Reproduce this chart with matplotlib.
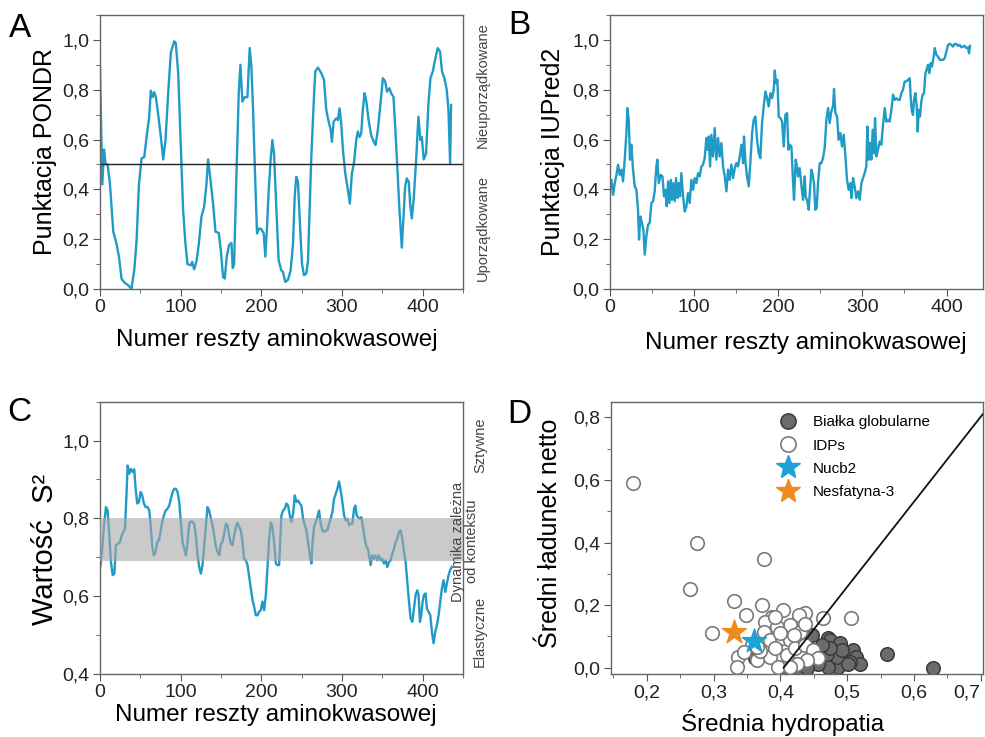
import matplotlib
matplotlib.use("Agg")
import matplotlib.pyplot as plt
from matplotlib.ticker import MultipleLocator, FuncFormatter
from matplotlib.lines import Line2D

plt.rcParams['font.family'] = ['Liberation Sans', 'DejaVu Sans']

# ---- panel A: PONDR score ----
pondr_x = [0, 2.9, 5, 7, 9.5, 12.4, 16.5, 20.6, 23.5, 26.8, 31, 35, 39, 42.5, 45.4, 48.3,
           51.6, 54.9, 57.8, 61, 63, 65.2, 67.2, 69.3, 72, 75.5, 78.4, 81.3, 84.6, 87.9,
           92, 94, 97, 100.2, 103, 106, 108.5, 112.6, 114.3, 116.7, 119.6, 122.5, 125.8,
           129.1, 132, 134, 136.1, 140.3, 143.2, 147.3, 149.8, 152.6, 154.7, 157.2, 160,
           163, 164.6, 166.3, 169.1, 172, 174.1, 176.6, 179.5, 182.8, 185.6, 187.7, 189.8,
           191.8, 194.7, 197.2, 200.1, 203, 205, 207.1, 209.2, 211.6, 213.7, 215.8, 218.7,
           221.5, 224.8, 226.9, 229.8, 233.1, 236.4, 239.3, 241.4, 243.4, 245.5, 247.5,
           250.4, 252.9, 255.8, 257.9, 259.9, 262, 265.3, 266.9, 270.2, 274.4, 277.7,
           280.5, 282.6, 285.9, 287.6, 289.6, 292.9, 295, 297, 299.1, 301.2, 304.1, 307.4,
           309.8, 312.3, 314.8, 317.7, 319.7, 321.8, 323.9, 325.9, 328, 330, 333, 336.2,
           339.5, 341.6, 344.5, 347.8, 350.7, 353.6, 356, 358.9, 361, 363.9, 366, 368.4,
           371.3, 374.2, 376.3, 378.3, 380.4, 382.9, 384.5, 386.6, 389, 392, 394.8, 397.3,
           399, 401.4, 404.3, 407.2, 409.7, 412.6, 415.4, 418.7, 421.6, 424.1, 427, 429.9,
           432, 434.1, 435.3]
pondr_y = [0.89, 0.42, 0.56, 0.50, 0.50, 0.42, 0.23, 0.18, 0.13, 0.04, 0.024, 0.015, 0.0,
           0.075, 0.196, 0.42, 0.524, 0.53, 0.61, 0.69, 0.796, 0.77, 0.79, 0.77, 0.705,
           0.61, 0.52, 0.60, 0.79, 0.95, 0.994, 0.987, 0.866, 0.58, 0.32, 0.18, 0.10,
           0.095, 0.109, 0.079, 0.11, 0.18, 0.29, 0.33, 0.42, 0.52, 0.464, 0.34, 0.23,
           0.225, 0.156, 0.048, 0.042, 0.13, 0.176, 0.185, 0.084, 0.10, 0.45, 0.785, 0.90,
           0.752, 0.77, 0.77, 0.967, 0.893, 0.72, 0.504, 0.223, 0.243, 0.24, 0.223, 0.13,
           0.25, 0.397, 0.52, 0.598, 0.544, 0.32, 0.115, 0.075, 0.068, 0.028, 0.037,
           0.075, 0.18, 0.37, 0.45, 0.43, 0.29, 0.102, 0.055, 0.062, 0.115, 0.316, 0.53,
           0.772, 0.873, 0.889, 0.866, 0.84, 0.72, 0.685, 0.64, 0.591, 0.672, 0.685,
           0.678, 0.725, 0.665, 0.558, 0.464, 0.397, 0.343, 0.464, 0.504, 0.598, 0.632,
           0.61, 0.625, 0.72, 0.786, 0.759, 0.678, 0.618, 0.591, 0.578, 0.638, 0.745,
           0.846, 0.833, 0.792, 0.806, 0.786, 0.77, 0.651, 0.504, 0.316, 0.166, 0.29,
           0.41, 0.444, 0.43, 0.343, 0.283, 0.364, 0.52, 0.692, 0.598, 0.61, 0.52, 0.544,
           0.745, 0.846, 0.873, 0.92, 0.967, 0.953, 0.873, 0.846, 0.799, 0.72, 0.504, 0.739]

# ---- panel B: IUPred2 score ----
iupred_x = [0, 2, 4, 6, 8, 9.9, 11.9, 13.9, 15.8, 17.8, 19.8, 21, 22.6, 24.1, 25.7, 27.7,
            29.7, 31.7, 33.6, 34.8, 36.4, 38.4, 40, 41.6, 43.5, 45.5, 47.5, 49.5, 51.5,
            53.4, 55.4, 56.6, 58.2, 60.6, 62.6, 64.5, 66.1, 67.7, 69.3, 70.9, 72.5, 74,
            75.6, 77.2, 78.8, 80.4, 82, 83.5, 85.1, 87.1, 89.1, 91.1, 93, 95, 97, 99,
            100.9, 102.9, 104.9, 106.9, 108.9, 110.8, 112.8, 114.8, 116, 117.6, 119.2,
            120.7, 122.7, 124.7, 126.7, 128.7, 130.6, 132.6, 134.6, 136.6, 138.6, 140.5,
            142.5, 144.5, 146.5, 148.5, 150.4, 152.4, 154.4, 156.4, 158.4, 159.5, 161.1,
            163.1, 165.1, 167.1, 169.1, 171, 173, 175, 177, 178.9, 180.9, 182.9, 184.9,
            186.9, 188.8, 190.8, 192.8, 194.8, 196, 197.5, 199.1, 200.7, 202.7, 204.7,
            206.7, 208.6, 210.6, 212.2, 213.8, 215.8, 217.8, 218.9, 220.9, 222.4, 223.6,
            225.6, 227.6, 229.6, 231.6, 232.7, 234.7, 236.3, 237.9, 239.5, 241.1, 242.6,
            244.2, 245.8, 247.4, 249.4, 251.3, 253.3, 255.3, 257.3, 259.3, 261.2, 263.2,
            265.2, 266.4, 268, 270, 271.9, 273.9, 275.9, 277.9, 279.9, 281.8, 283.8,
            285.8, 287, 289, 290.9, 292.9, 294.9, 296.9, 298.9, 300.8, 302.8, 304.8, 306,
            307.6, 309.2, 310.7, 312.3, 313.9, 315.1, 316.7, 318.6, 320.6, 322.6, 324.6,
            326.6, 328.5, 330.5, 332.5, 334.5, 336.5, 338.4, 340.4, 342.4, 344.4, 346.4,
            348.3, 350.3, 352.3, 354.3, 356.3, 357.4, 358.6, 360.2, 361.4, 363, 364.6,
            365.8, 366.9, 368.5, 370.1, 371.7, 373.3, 374.9, 376.4, 378, 379.6, 381.2,
            382.8, 384.4, 386, 387.9, 389.9, 391.9, 393.9, 395.9, 397.8, 399.8, 401.8,
            403.8, 405.7, 407.7, 409.7, 411.7, 413.7, 415.6, 417.6, 419.6, 421.6, 423.6,
            425.5, 426.7, 427.9]
iupred_y = [0.425, 0.438, 0.378, 0.425, 0.458, 0.499, 0.458, 0.479, 0.432, 0.519, 0.626,
            0.726, 0.679, 0.519, 0.579, 0.479, 0.412, 0.398, 0.318, 0.198, 0.291, 0.265,
            0.238, 0.138, 0.211, 0.258, 0.265, 0.345, 0.352, 0.392, 0.492, 0.519, 0.425,
            0.458, 0.452, 0.372, 0.398, 0.332, 0.432, 0.345, 0.438, 0.358, 0.425, 0.352,
            0.445, 0.365, 0.425, 0.372, 0.465, 0.372, 0.311, 0.332, 0.385, 0.345, 0.438,
            0.398, 0.445, 0.425, 0.465, 0.452, 0.492, 0.499, 0.525, 0.606, 0.559, 0.612,
            0.492, 0.619, 0.532, 0.646, 0.519, 0.606, 0.532, 0.586, 0.492, 0.452, 0.392,
            0.479, 0.438, 0.499, 0.445, 0.485, 0.505, 0.492, 0.532, 0.579, 0.505, 0.612,
            0.512, 0.452, 0.412, 0.512, 0.626, 0.679, 0.692, 0.599, 0.545, 0.525, 0.666,
            0.733, 0.793, 0.766, 0.733, 0.786, 0.766, 0.80, 0.877, 0.826, 0.84, 0.692,
            0.686, 0.672, 0.572, 0.699, 0.706, 0.559, 0.579, 0.572, 0.425, 0.358, 0.519,
            0.492, 0.452, 0.485, 0.418, 0.358, 0.452, 0.372, 0.352, 0.318, 0.398, 0.479,
            0.458, 0.425, 0.318, 0.325, 0.425, 0.505, 0.505, 0.525, 0.566, 0.679, 0.726,
            0.666, 0.713, 0.733, 0.803, 0.706, 0.692, 0.599, 0.626, 0.572, 0.619, 0.532,
            0.438, 0.398, 0.425, 0.365, 0.445, 0.412, 0.365, 0.392, 0.358, 0.425, 0.445,
            0.465, 0.492, 0.652, 0.519, 0.586, 0.519, 0.639, 0.545, 0.686, 0.532, 0.559,
            0.592, 0.579, 0.659, 0.726, 0.672, 0.679, 0.672, 0.719, 0.78, 0.759, 0.766,
            0.759, 0.759, 0.786, 0.80, 0.833, 0.833, 0.84, 0.846, 0.773, 0.719, 0.699,
            0.759, 0.786, 0.733, 0.632, 0.719, 0.692, 0.753, 0.78, 0.786, 0.866, 0.88,
            0.90, 0.866, 0.907, 0.893, 0.926, 0.967, 0.94, 0.933, 0.92, 0.92, 0.92, 0.926,
            0.953, 0.98, 0.984, 0.98, 0.973, 0.984, 0.983, 0.976, 0.98, 0.97, 0.973,
            0.976, 0.967, 0.97, 0.946, 0.976]

# ---- panel C: S2 order parameter ----
s2_x = [0, 2.1, 5, 7.4, 9.5, 11.6, 13.6, 15.7, 17.8, 19.8, 22.7, 24.8, 26.8, 28.9, 31, 33,
        34.3, 36.3, 38.4, 40.5, 42.5, 44.2, 46.2, 48.3, 50.4, 52.4, 54.5, 56.6, 59, 61.1,
        63.2, 64.8, 66.9, 68.9, 71, 73.1, 75.1, 77.2, 79.3, 81.3, 83.8, 85.9, 87.9, 90,
        92.1, 94.1, 96.2, 98.2, 100.3, 102.4, 104.4, 106.5, 108.6, 110.6, 112.7, 114.8,
        116.8, 118.9, 121, 123, 125.1, 127.1, 129.2, 131.3, 133.3, 135.4, 137.5, 139.5,
        141.6, 143.7, 145.7, 147.8, 149.9, 151.9, 154, 156.1, 158.1, 160.2, 162.2, 164.3,
        166.4, 168.4, 170.5, 172.6, 174.6, 176.7, 178.7, 180.8, 182.9, 184.9, 187, 189.1,
        191.1, 193.2, 195.3, 197.3, 199.4, 201.4, 203.5, 205.6, 207.6, 209.7, 211.8,
        213.8, 215.9, 218, 220, 222.1, 225, 227, 229.1, 231.1, 233.2, 235.3, 237.3,
        239.4, 241.5, 243.5, 245.6, 247.7, 249.7, 251.8, 253.9, 255.9, 258, 260.1,
        262.1, 263.3, 265.4, 267.5, 269.5, 271.6, 273.7, 275.7, 277.8, 279.9, 281.9,
        284, 286, 288.1, 290.2, 292.2, 294.3, 296.4, 298.4, 300.5, 302.6, 304.6, 306.7,
        308.8, 310.8, 312.9, 315, 316.6, 318.2, 319.9, 322, 324, 326.1, 328.2, 330.2,
        332.3, 334.4, 335.6, 337.6, 339.7, 341.8, 343.8, 345.9, 348, 350, 352.1, 354.2,
        356.2, 358.3, 360.4, 362.4, 364.5, 366.5, 368.6, 370.7, 372.7, 374.8, 376.9,
        378.9, 381, 383.1, 385.1, 387.2, 389.2, 391.3, 393.4, 395, 396.7, 398.3, 400,
        401.6, 403.7, 405.3, 407.4, 409.5, 411.5, 413.6, 415.7, 417.7, 419.8, 421.9,
        423.9, 426, 428.1, 430.1, 432.2, 434.2, 436.3]
s2_y = [0.671, 0.705, 0.782, 0.829, 0.82, 0.756, 0.688, 0.654, 0.658, 0.731, 0.735, 0.739,
        0.756, 0.765, 0.774, 0.868, 0.936, 0.915, 0.927, 0.919, 0.926, 0.876, 0.838,
        0.842, 0.868, 0.859, 0.838, 0.829, 0.829, 0.82, 0.774, 0.727, 0.705, 0.714,
        0.739, 0.744, 0.765, 0.791, 0.808, 0.82, 0.825, 0.833, 0.85, 0.868, 0.876,
        0.876, 0.868, 0.842, 0.791, 0.739, 0.722, 0.705, 0.739, 0.786, 0.792, 0.791,
        0.786, 0.756, 0.705, 0.675, 0.658, 0.68, 0.731, 0.782, 0.829, 0.82, 0.799,
        0.782, 0.756, 0.727, 0.714, 0.705, 0.735, 0.739, 0.761, 0.786, 0.782, 0.756,
        0.735, 0.731, 0.756, 0.778, 0.789, 0.778, 0.769, 0.739, 0.696, 0.692, 0.68,
        0.65, 0.62, 0.59, 0.573, 0.551, 0.551, 0.56, 0.564, 0.586, 0.564, 0.603, 0.671,
        0.748, 0.789, 0.778, 0.739, 0.684, 0.68, 0.68, 0.808, 0.82, 0.825, 0.838,
        0.833, 0.808, 0.791, 0.812, 0.859, 0.842, 0.846, 0.838, 0.833, 0.799, 0.782,
        0.769, 0.739, 0.705, 0.684, 0.731, 0.778, 0.791, 0.803, 0.82, 0.786, 0.769,
        0.765, 0.769, 0.769, 0.786, 0.799, 0.816, 0.85, 0.863, 0.876, 0.895, 0.872,
        0.842, 0.808, 0.795, 0.799, 0.782, 0.786, 0.786, 0.825, 0.833, 0.808, 0.803,
        0.799, 0.803, 0.778, 0.748, 0.727, 0.722, 0.696, 0.68, 0.705, 0.696, 0.705,
        0.692, 0.705, 0.692, 0.696, 0.684, 0.692, 0.675, 0.688, 0.692, 0.709, 0.722,
        0.739, 0.748, 0.765, 0.769, 0.748, 0.714, 0.688, 0.637, 0.586, 0.543, 0.534,
        0.568, 0.603, 0.615, 0.603, 0.534, 0.551, 0.586, 0.603, 0.607, 0.568, 0.56,
        0.551, 0.509, 0.479, 0.509, 0.525, 0.551, 0.586, 0.62, 0.641, 0.611, 0.633,
        0.654, 0.667, 0.675]

# ---- panel D: charge-hydropathy ----
glob_x = [0.447, 0.472, 0.474, 0.489, 0.496, 0.509, 0.514, 0.519, 0.505, 0.487, 0.472,
          0.485, 0.47, 0.492, 0.457, 0.474, 0.462, 0.502, 0.559, 0.628, 0.362, 0.41,
          0.42, 0.43, 0.44]
glob_y = [0.104, 0.094, 0.088, 0.078, 0.051, 0.056, 0.035, 0.013, 0.019, 0.003, 0.003,
          0.035, 0.045, 0.056, 0.013, 0.062, 0.072, 0.013, 0.043, 0.0, 0.03, -0.008,
          -0.008, -0.008, 0.0]
idp_x = [0.18, 0.275, 0.376, 0.265, 0.33, 0.373, 0.348, 0.297, 0.404, 0.464, 0.506, 0.437,
         0.428, 0.387, 0.377, 0.375, 0.414, 0.395, 0.385, 0.403, 0.415, 0.43, 0.437,
         0.357, 0.337, 0.335, 0.365, 0.385, 0.397, 0.41, 0.422, 0.437, 0.449, 0.457,
         0.44, 0.425, 0.392, 0.37, 0.415, 0.392, 0.345, 0.365, 0.40, 0.42]
idp_y = [0.59, 0.40, 0.346, 0.253, 0.213, 0.201, 0.167, 0.111, 0.185, 0.16, 0.158, 0.176,
         0.17, 0.163, 0.147, 0.115, 0.136, 0.131, 0.088, 0.094, 0.088, 0.115, 0.141,
         0.072, 0.035, 0.003, 0.025, 0.035, 0.003, 0.04, 0.062, 0.072, 0.056, 0.03,
         0.025, 0.013, 0.062, 0.054, 0.003, 0.162, 0.051, 0.067, 0.11, 0.105]
nucb2 = (0.36, 0.086)
nesf3 = (0.33, 0.115)
border_x = [0.405, 0.703]
border_y = [0.0, 0.81]

LINE = '#1F9BC6'


def comma(v, pos):
    return f"{v:.1f}".replace('.', ',')


def style(ax):
    for s in ax.spines.values():
        s.set_color('#666666')
        s.set_linewidth(1.0)
    ax.tick_params(which='both', direction='out', colors='#555555',
                   labelcolor='#222222', labelsize=14, top=False, right=False)
    ax.tick_params(which='major', length=5, pad=2.5)
    ax.tick_params(which='minor', length=3)
    ax.yaxis.set_major_formatter(FuncFormatter(comma))


def labels(ax, xl, yl, xpos, ypos, ysize=18):
    ax.set_xlabel(xl, fontsize=17.5, va='center')
    ax.xaxis.set_label_coords(*xpos)
    ax.set_ylabel(yl, fontsize=ysize, va='center')
    ax.yaxis.set_label_coords(*ypos)


fig = plt.figure(figsize=(9.85, 7.37), dpi=100)

# A
axA = fig.add_axes([0.1015, 0.6079, 0.3685, 0.3718])
axA.plot(pondr_x, pondr_y, color=LINE, lw=1.7)
axA.axhline(0.5, color='#222222', lw=1.0)
axA.set_xlim(0, 450)
axA.set_ylim(0, 1.1)
axA.xaxis.set_major_locator(MultipleLocator(100))
axA.xaxis.set_minor_locator(MultipleLocator(50))
axA.yaxis.set_major_locator(MultipleLocator(0.2))
axA.yaxis.set_minor_locator(MultipleLocator(0.1))
style(axA)
labels(axA, 'Numer reszty aminokwasowej', 'Punktacja PONDR', (0.487, -0.186), (-0.151, 0.50))
axA.text(1.055, 0.745, 'Nieuporządkowane', transform=axA.transAxes, rotation=90,
         ha='center', va='center', fontsize=10.5, color='#444444')
axA.text(1.055, 0.223, 'Uporządkowane', transform=axA.transAxes, rotation=90,
         ha='center', va='center', fontsize=10.5, color='#444444')

# B
axB = fig.add_axes([0.619, 0.6079, 0.3787, 0.3718])
axB.plot(iupred_x, iupred_y, color=LINE, lw=1.7)
axB.set_xlim(0, 443)
axB.set_ylim(0, 1.1)
axB.xaxis.set_major_locator(MultipleLocator(100))
axB.xaxis.set_minor_locator(MultipleLocator(50))
axB.yaxis.set_major_locator(MultipleLocator(0.2))
axB.yaxis.set_minor_locator(MultipleLocator(0.1))
style(axB)
labels(axB, 'Numer reszty aminokwasowej', 'Punktacja IUPred2', (0.527, -0.197), (-0.153, 0.50))

# C
axC = fig.add_axes([0.1015, 0.0855, 0.3685, 0.3695])
axC.plot(s2_x, s2_y, color=LINE, lw=1.7, zorder=2)
axC.axhspan(0.69, 0.80, color='#a8a8a8', alpha=0.6, lw=0, zorder=3)
axC.set_xlim(0, 450)
axC.set_ylim(0.4, 1.1)
axC.xaxis.set_major_locator(MultipleLocator(100))
axC.xaxis.set_minor_locator(MultipleLocator(50))
axC.yaxis.set_major_locator(MultipleLocator(0.2))
axC.yaxis.set_minor_locator(MultipleLocator(0.1))
style(axC)
labels(axC, 'Numer reszty aminokwasowej', 'Wartość  S²', (0.484, -0.151), (-0.151, 0.456), ysize=21)
axC.text(1.047, 0.841, 'Sztywne', transform=axC.transAxes, rotation=90,
         ha='center', va='center', fontsize=10.5, color='#444444')
axC.text(1.005, 0.486, 'Dynamika zależna\nod kontekstu', transform=axC.transAxes, rotation=90,
         ha='center', va='center', fontsize=10.5, color='#444444', linespacing=1.0)
axC.text(1.047, 0.155, 'Elastyczne', transform=axC.transAxes, rotation=90,
         ha='center', va='center', fontsize=10.5, color='#444444')

# D
axD = fig.add_axes([0.620, 0.0855, 0.3777, 0.3695])
axD.scatter(glob_x, glob_y, s=95, facecolor='#6b6b6b', edgecolor='#3a3a3a', lw=1.1, zorder=2)
axD.scatter(idp_x, idp_y, s=95, facecolor='white', edgecolor='#7a7a7a', lw=1.2, zorder=3)
axD.plot(border_x, border_y, color='#111111', lw=1.3, zorder=4)
axD.scatter([nesf3[0]], [nesf3[1]], marker='*', s=330, color='#F08A1E', zorder=5)
axD.scatter([nucb2[0]], [nucb2[1]], marker='*', s=330, color='#1BA3D6', zorder=5)
axD.set_xlim(0.146, 0.703)
axD.set_ylim(-0.02, 0.85)
axD.xaxis.set_major_locator(MultipleLocator(0.1))
axD.xaxis.set_minor_locator(MultipleLocator(0.05))
axD.yaxis.set_major_locator(MultipleLocator(0.2))
axD.yaxis.set_minor_locator(MultipleLocator(0.1))
style(axD)
axD.xaxis.set_major_formatter(FuncFormatter(comma))
labels(axD, 'Średnia hydropatia', 'Średni ładunek netto', (0.463, -0.178), (-0.163, 0.518))
handles = [
    Line2D([], [], ls='none', marker='o', ms=11, mfc='#6b6b6b', mec='#3a3a3a', mew=1.1,
           label='Białka globularne'),
    Line2D([], [], ls='none', marker='o', ms=11, mfc='white', mec='#7a7a7a', mew=1.2,
           label='IDPs'),
    Line2D([], [], ls='none', marker='*', ms=18, color='#1BA3D6', label='Nucb2'),
    Line2D([], [], ls='none', marker='*', ms=18, color='#F08A1E', label='Nesfatyna-3'),
]
axD.legend(handles=handles, loc='upper left', bbox_to_anchor=(0.42, 1.0), frameon=False,
           fontsize=11, handlelength=1.0, handletextpad=1.1, labelspacing=0.6,
           borderpad=0.4)

# panel letters
for lab, x, y in [('A', 0.020, 0.962), ('B', 0.527, 0.966), ('C', 0.020, 0.440),
                  ('D', 0.527, 0.437)]:
    fig.text(x, y, lab, fontsize=24, ha='center', va='center')

# keep the last x label of panel D inside the figure
fig.canvas.draw()
for tick in axD.xaxis.get_major_ticks():
    if abs(tick.get_loc() - 0.7) < 1e-6:
        tick.label1.set_horizontalalignment('right')

fig.savefig('out.png', dpi=100)
plt.close(fig)
